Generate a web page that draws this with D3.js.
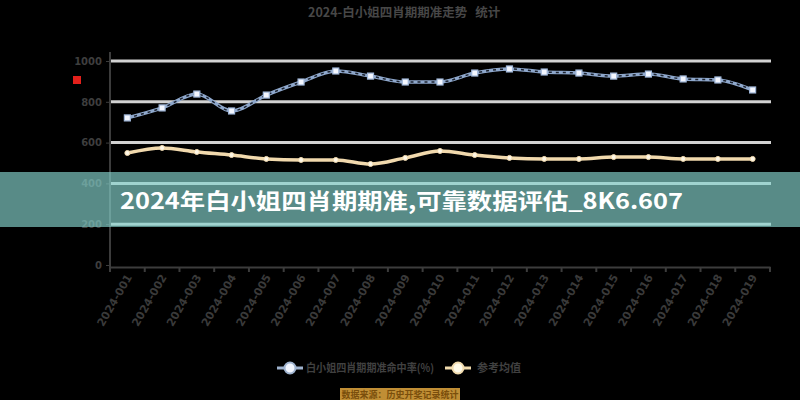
<!DOCTYPE html>
<html><head><meta charset="utf-8">
<script src="https://cdn.jsdelivr.net/npm/d3@7"></script>
<style>
html,body{margin:0;padding:0;background:#000;}
svg{display:block;font-family:"Noto Sans CJK SC","Noto Sans",sans-serif;}
</style></head>
<body><svg id="c" width="800" height="400"></svg>
<script>
const categories = ["2024-001","2024-002","2024-003","2024-004","2024-005","2024-006","2024-007","2024-008","2024-009","2024-010","2024-011","2024-012","2024-013","2024-014","2024-015","2024-016","2024-017","2024-018","2024-019"];
const seriesA = [721,770,838,755,833,897,951,926,897,897,941,961,946,941,926,936,912,907,858];
const seriesB = [549,574,554,539,520,515,515,495,525,559,539,525,520,520,529,529,520,520,520];
const yTicks = [0,200,400,600,800,1000];
const seriesNames = ["白小姐四肖期期准命中率(%)","参考均值"];
const titleText = "2024-白小姐四肖期期准走势";
const titleSub = "统计";
const bannerText = "2024年白小姐四肖期期准,可靠数据评估_8K6.607";
const sourceText = "数据来源：历史开奖记录统计";

const svg = d3.select("#c");
const m = {l:110, r:770, t:61, b:265};
const x = d3.scaleBand().domain(categories).range([m.l, m.r]);
const y = d3.scaleLinear().domain([0,1000]).range([m.b, m.t]);

// title (one text element, two parts)
const tt = svg.append("text").attr("x",308).attr("y",17).attr("fill","#474747").attr("font-size",12.5).attr("font-weight","bold");
tt.append("tspan").text(titleText);
tt.append("tspan").attr("dx",8).text(titleSub);

// red icon
svg.append("rect").attr("x",73).attr("y",76).attr("width",8).attr("height",8).attr("fill","#e3201b");

// gridlines
svg.append("g").selectAll("line").data(yTicks.filter(d=>d>0)).join("line")
  .attr("x1",m.l).attr("x2",m.r+1).attr("y1",d=>y(d)).attr("y2",d=>y(d))
  .attr("stroke","#d2d2d2").attr("stroke-width",3);

// y axis
const ya = svg.append("g").attr("transform",`translate(${m.l},0)`)
  .call(d3.axisLeft(y).tickValues(yTicks).tickFormat(d3.format("d")).tickSize(4).tickPadding(4));
ya.select(".domain").attr("stroke","#3c3c3c").attr("stroke-width",2).attr("d",`M0,52V${m.b+3}`);
ya.selectAll(".tick line").attr("stroke","#3c3c3c");
ya.selectAll("text").attr("fill","#3e3e3e").attr("font-size",10).attr("font-weight","bold").style("font-family","DejaVu Sans");

// x axis
const xa = svg.append("g").attr("transform",`translate(0,${m.b+2})`)
  .call(d3.axisBottom(x).tickSize(0).tickPadding(0));
xa.select(".domain").attr("stroke","#3c3c3c").attr("stroke-width",2);
xa.selectAll(".tick text").attr("fill","#3a3a3a").attr("font-size",11).attr("font-weight","bold")
  .style("font-family","DejaVu Sans")
  .attr("text-anchor","end").attr("dy",0)
  .attr("transform","translate(5,10) rotate(-60)");
// boundary ticks
svg.append("g").selectAll("line").data(categories.concat(["__end"])).join("line")
  .attr("x1",(d,i)=> i<categories.length ? x(d) : m.r)
  .attr("x2",(d,i)=> i<categories.length ? x(d) : m.r)
  .attr("y1",m.b+2).attr("y2",m.b+7).attr("stroke","#3c3c3c").attr("stroke-width",2);

const cx = d => x(d)+x.bandwidth()/2;
const lineA = d3.line().x((d,i)=>cx(categories[i])).y(d=>y(d)).curve(d3.curveMonotoneX);

// series A
svg.append("path").datum(seriesA).attr("d",lineA).attr("fill","none").attr("stroke","#8ea7cb").attr("stroke-width",3.5);
svg.append("path").datum(seriesA).attr("d",lineA).attr("fill","none").attr("stroke","#1c2330").attr("stroke-width",1.5).attr("stroke-dasharray","3,4");
svg.append("g").selectAll("rect").data(seriesA).join("rect")
  .attr("x",(d,i)=>cx(categories[i])-3).attr("y",d=>y(d)-3).attr("width",6).attr("height",6)
  .attr("fill","#f4f7ff").attr("stroke","#9fb6d8").attr("stroke-width",1.2);

// series B
svg.append("path").datum(seriesB).attr("d",lineA).attr("fill","none").attr("stroke","#f1d9ad").attr("stroke-width",3.5);
svg.append("g").selectAll("circle").data(seriesB).join("circle")
  .attr("cx",(d,i)=>cx(categories[i])).attr("cy",d=>y(d)).attr("r",2.5)
  .attr("fill","#fff8e8").attr("stroke","#f1d9ad").attr("stroke-width",1);

// legend
const lg = svg.append("g");
lg.append("line").attr("x1",277).attr("x2",303).attr("y1",368).attr("y2",368).attr("stroke","#9fb3cf").attr("stroke-width",3);
lg.append("circle").attr("cx",290).attr("cy",368).attr("r",5.5).attr("fill","#f2f6ff").attr("stroke","#9fb3cf").attr("stroke-width",2);
lg.append("text").attr("x",306).attr("y",372).attr("fill","#404040").attr("font-size",11).attr("font-weight","bold")
  .attr("textLength",128).attr("lengthAdjust","spacingAndGlyphs").text(seriesNames[0]);
lg.append("line").attr("x1",445).attr("x2",471).attr("y1",368).attr("y2",368).attr("stroke","#f2dcae").attr("stroke-width",3);
lg.append("circle").attr("cx",458).attr("cy",368).attr("r",5.5).attr("fill","#fffbea").attr("stroke","#f2dcae").attr("stroke-width",2);
lg.append("text").attr("x",477).attr("y",372).attr("fill","#404040").attr("font-size",11).attr("font-weight","bold").text(seriesNames[1]);

// source box
svg.append("rect").attr("x",340).attr("y",388).attr("width",120).attr("height",14).attr("fill","#c08e35");
svg.append("text").attr("x",400).attr("y",398).attr("text-anchor","middle").attr("fill","#7a4e0c").attr("font-size",9).attr("font-weight","bold").text(sourceText);

// banner
svg.append("rect").attr("x",0).attr("y",172).attr("width",800).attr("height",55).attr("fill","rgb(134,211,205)").attr("fill-opacity",0.66);
svg.append("text").attr("x",120).attr("y",209).attr("fill","#fff").attr("font-size",22).attr("font-weight","bold")
  .attr("textLength",563).attr("lengthAdjust","spacingAndGlyphs").text(bannerText);
</script></body></html>
